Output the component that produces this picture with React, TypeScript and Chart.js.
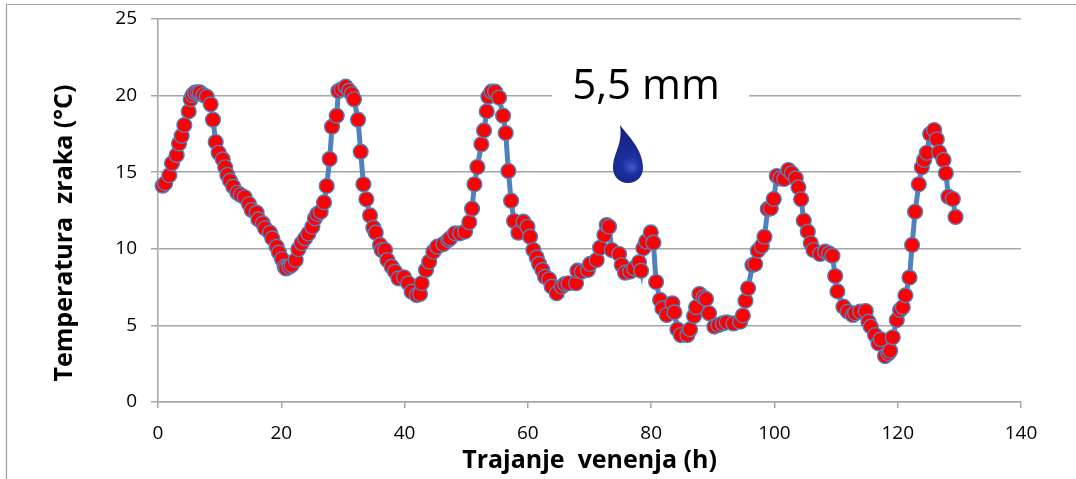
import React, { useEffect, useRef } from "react";
import { Chart, registerables } from "chart.js";

Chart.register(...registerables);

const seriesLabel = "Temperatura zraka";
const xAxisTitle = "Trajanje  venenja (h)";
const yAxisTitle = "Temperatura  zraka (°C)";
const noteText = "5,5 mm";

const hours = [
  0.76, 1.14, 1.84, 2.27, 3.03, 3.41, 3.84, 4.27, 4.98, 5.3, 5.62, 6.0, 6.44, 6.81, 7.36, 7.9, 8.55, 8.92, 9.36, 9.84,
  10.5, 10.9, 11.25, 11.68, 12.2, 12.87, 13.41, 14.06, 14.76, 15.2, 16.0, 16.28, 17.0, 17.36, 18.17, 18.55, 19.25, 19.63, 20.12, 20.55,
  20.77, 21.3, 21.69, 22.34, 22.77, 23.3, 23.85, 24.39, 25.04, 25.47, 25.85, 26.39, 26.93, 27.37, 27.85, 28.23, 28.99, 29.26, 29.8, 30.45,
  31.0, 31.42, 31.8, 32.45, 32.88, 33.32, 33.8, 34.4, 34.94, 35.32, 36.02, 36.29, 36.83, 37.21, 37.91, 38.45, 39.0, 39.9, 40.6, 41.16,
  41.97, 42.5, 42.78, 43.48, 44.0, 44.67, 45.3, 46.3, 47.1, 47.38, 48.19, 49.0, 49.81, 50.5, 50.95, 51.33, 51.81, 52.46, 52.89, 53.33,
  53.6, 54.1, 54.68, 55.33, 55.98, 56.41, 56.84, 57.28, 57.76, 58.46, 59.28, 59.93, 60.36, 60.9, 61.44, 61.82, 62.36, 62.79, 63.44, 63.87,
  64.68, 65.49, 66.03, 66.58, 67.82, 68.04, 68.74, 69.72, 70.09, 71.17, 71.71, 72.42, 72.79, 73.17, 73.61, 74.8, 75.23, 75.77, 76.58, 77.23,
  78.04, 78.37, 78.74, 79.18, 79.94, 80.37, 80.8, 81.45, 81.83, 82.53, 83.45, 83.78, 84.26, 84.81, 85.88, 86.32, 86.96, 87.29, 87.83, 88.48,
  88.91, 89.4, 90.26, 90.91, 91.62, 92.27, 93.35, 94.43, 94.87, 95.3, 95.73, 96.43, 96.87, 97.3, 97.95, 98.38, 98.92, 99.41, 99.89, 100.38,
  100.92, 101.57, 102.27, 102.81, 103.46, 103.89, 104.33, 104.76, 105.41, 105.9, 106.33, 107.41, 108.22, 108.87, 109.41, 109.85, 110.22, 111.2, 111.9, 112.71,
  113.09, 113.9, 114.82, 115.25, 115.63, 116.33, 116.87, 117.25, 117.95, 118.5, 118.77, 119.2, 119.85, 120.39, 120.82, 121.25, 121.91, 122.33, 122.82, 123.42,
  123.91, 124.28, 124.72, 125.26, 125.91, 126.34, 126.72, 127.43, 127.81, 128.23, 128.94, 129.38,
];

const temperatures = [
  14.12, 14.27, 14.8, 15.58, 16.12, 16.88, 17.38, 18.08, 18.97, 19.76, 20.04, 20.19, 20.21, 20.21, 20.04, 19.93, 19.43, 18.43, 16.97, 16.27,
  15.84, 15.32, 14.82, 14.45, 14.06, 13.66, 13.51, 13.36, 12.92, 12.53, 12.36, 11.92, 11.66, 11.34, 11.05, 10.68, 10.14, 9.75, 9.33, 8.83,
  8.72, 8.83, 8.94, 9.27, 9.97, 10.36, 10.68, 11.0, 11.44, 11.99, 12.27, 12.42, 13.03, 14.1, 15.86, 17.97, 18.69, 20.3, 20.41, 20.58,
  20.32, 20.1, 19.76, 18.43, 16.34, 14.21, 13.23, 12.18, 11.38, 11.05, 10.25, 9.92, 9.92, 9.27, 8.83, 8.51, 8.07, 8.14, 7.75, 7.2,
  6.98, 7.05, 7.75, 8.62, 9.16, 9.81, 10.14, 10.31, 10.57, 10.68, 11.01, 11.01, 11.12, 11.73, 12.62, 14.21, 15.34, 16.82, 17.73, 18.97,
  19.93, 20.26, 20.26, 19.87, 18.69, 17.56, 15.08, 13.14, 11.81, 11.05, 11.77, 11.44, 10.79, 9.92, 9.44, 9.01, 8.62, 8.18, 8.01, 7.53,
  7.09, 7.53, 7.7, 7.75, 7.75, 8.57, 8.51, 8.62, 9.01, 9.27, 10.07, 10.9, 11.55, 11.44, 9.92, 9.66, 8.94, 8.44, 8.51, 8.72,
  9.12, 8.57, 10.03, 10.47, 11.07, 10.4, 7.83, 6.66, 6.11, 5.68, 6.44, 5.85, 4.74, 4.37, 4.37, 4.74, 5.61, 6.18, 7.05, 6.83,
  6.72, 5.79, 4.92, 5.03, 5.13, 5.2, 5.13, 5.24, 5.64, 6.61, 7.42, 8.94, 9.01, 9.88, 10.18, 10.79, 12.6, 12.64, 13.25, 14.75,
  14.6, 14.56, 15.14, 14.93, 14.6, 14.01, 13.23, 11.84, 11.12, 10.36, 9.92, 9.66, 9.81, 9.7, 9.55, 8.22, 7.22, 6.22, 5.9, 5.68,
  5.79, 5.9, 5.94, 5.24, 4.92, 4.37, 3.83, 4.09, 3.0, 3.18, 3.35, 4.22, 5.35, 6.0, 6.18, 6.96, 8.12, 10.25, 12.42, 14.21,
  15.32, 15.8, 16.27, 17.49, 17.75, 17.15, 16.3, 15.8, 14.93, 13.4, 13.25, 12.08,
];

const TICK_FONT = { family: "'Open Sans'", size: 19 };
const GRID = "#a6a6a6";

const decorations = {
  id: "decorations",
  afterDraw(chart: any) {
    const c = chart.ctx;
    c.save();
    // outer frame: top and left edges only are visible
    c.strokeStyle = "#a0a0a0";
    c.lineWidth = 1.2;
    c.beginPath();
    c.moveTo(6.5, 479);
    c.lineTo(6.5, 4.5);
    c.lineTo(1076, 4.5);
    c.stroke();

    // y axis title
    c.save();
    c.translate(65, 233);
    c.rotate(-Math.PI / 2);
    c.fillStyle = "#000";
    c.font = "bold 25px 'Open Sans'";
    c.textAlign = "center";
    c.textBaseline = "middle";
    c.fillText(yAxisTitle, 0, 0);
    c.restore();

    // label box and text
    c.fillStyle = "#fff";
    c.fillRect(552, 70, 197, 50);
    c.fillStyle = "#000";
    c.font = "42px 'Open Sans'";
    c.textAlign = "center";
    c.textBaseline = "middle";
    c.fillText(noteText, 646, 87);

    // water drop
    const g = c.createRadialGradient(632, 168, 1, 628, 160, 28);
    g.addColorStop(0, "#3c55c8");
    g.addColorStop(0.3, "#1c2f9c");
    g.addColorStop(1, "#14237f");
    c.fillStyle = g;
    c.beginPath();
    c.moveTo(620, 125);
    c.bezierCurveTo(626, 134, 643, 148, 643, 168);
    c.bezierCurveTo(643, 177, 636, 183, 628, 183);
    c.bezierCurveTo(619, 183, 613, 176, 613, 168);
    c.bezierCurveTo(613, 152, 623, 146, 620, 125);
    c.closePath();
    c.fill();
    c.restore();
  },
};

export default function App() {
  const ref = useRef<HTMLCanvasElement | null>(null);

  useEffect(() => {
    if (!ref.current) return;
    const chart = new Chart(ref.current, {
      type: "line",
      data: {
        datasets: [
          {
            label: seriesLabel,
            data: hours.map((x, i) => ({ x, y: temperatures[i] })),
            borderColor: "#4f81bd",
            borderWidth: 5,
            pointBackgroundColor: "#ff0000",
            pointBorderColor: "#4f81bd",
            pointBorderWidth: 1.4,
            pointRadius: 7.4,
            tension: 0,
            clip: false,
          },
        ],
      },
      options: {
        responsive: false,
        animation: false,
        layout: { padding: { left: 0, top: 19, right: 55, bottom: 0 } },
        plugins: { legend: { display: false }, tooltip: { enabled: false } },
        scales: {
          x: {
            type: "linear",
            min: 0,
            max: 140,
            afterFit: (s: any) => {
              s.height = 77;
            },
            ticks: { stepSize: 20, color: "#000", font: TICK_FONT, padding: 14, maxRotation: 0 },
            grid: { drawOnChartArea: false, color: GRID, lineWidth: 1.5, tickLength: 6 },
            border: { color: GRID, width: 1.5 },
            title: {
              display: true,
              text: xAxisTitle,
              color: "#000",
              font: { family: "'Open Sans'", size: 25, weight: "bold" },
              padding: { top: 0, bottom: 3 },
            },
          },
          y: {
            type: "linear",
            min: 0,
            max: 25,
            afterFit: (s: any) => {
              s.width = 158;
              s.paddingTop = 0;
              s.paddingBottom = 0;
              s._margins.top = 0;
              s._margins.bottom = 0;
            },
            ticks: { stepSize: 5, color: "#000", font: TICK_FONT, padding: 14 },
            grid: { color: GRID, lineWidth: 1.5, tickLength: 7 },
            border: { color: GRID, width: 1.5 },
          },
        },
      },
      plugins: [decorations],
    } as any);
    return () => chart.destroy();
  }, []);

  return (
    <div style={{ position: "absolute", left: 0, top: 0, width: 1076, height: 479, background: "#fff" }}>
      <canvas ref={ref} width={1076} height={479} style={{ display: "block" }} />
    </div>
  );
}
